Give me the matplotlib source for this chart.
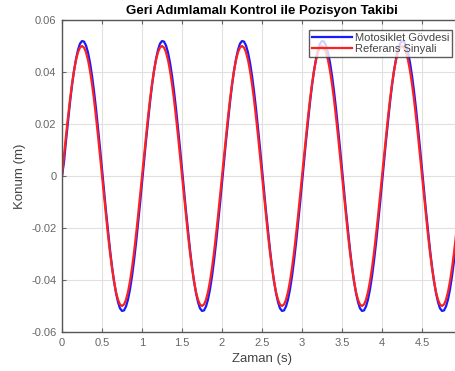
import numpy as np
import matplotlib.pyplot as plt

# time samples (s), every 0.025 s
zaman = [round(0.025 * k, 3) for k in range(201)]

# reference signal (m)
referans = [
    0.0, 0.0078, 0.0155, 0.0227, 0.0294, 0.0354, 0.0405, 0.0446, 0.0476, 0.0494, 0.0500, 0.0494, 0.0476, 0.0446, 0.0405, 0.0354, 0.0294, 0.0227, 0.0155, 0.0078,
    0.0, -0.0078, -0.0155, -0.0227, -0.0294, -0.0354, -0.0405, -0.0446, -0.0476, -0.0494, -0.0500, -0.0494, -0.0476, -0.0446, -0.0405, -0.0354, -0.0294, -0.0227, -0.0155, -0.0078,
    0.0, 0.0078, 0.0155, 0.0227, 0.0294, 0.0354, 0.0405, 0.0446, 0.0476, 0.0494, 0.0500, 0.0494, 0.0476, 0.0446, 0.0405, 0.0354, 0.0294, 0.0227, 0.0155, 0.0078,
    0.0, -0.0078, -0.0155, -0.0227, -0.0294, -0.0354, -0.0405, -0.0446, -0.0476, -0.0494, -0.0500, -0.0494, -0.0476, -0.0446, -0.0405, -0.0354, -0.0294, -0.0227, -0.0155, -0.0078,
    0.0, 0.0078, 0.0155, 0.0227, 0.0294, 0.0354, 0.0405, 0.0446, 0.0476, 0.0494, 0.0500, 0.0494, 0.0476, 0.0446, 0.0405, 0.0354, 0.0294, 0.0227, 0.0155, 0.0078,
    0.0, -0.0078, -0.0155, -0.0227, -0.0294, -0.0354, -0.0405, -0.0446, -0.0476, -0.0494, -0.0500, -0.0494, -0.0476, -0.0446, -0.0405, -0.0354, -0.0294, -0.0227, -0.0155, -0.0078,
    0.0, 0.0078, 0.0155, 0.0227, 0.0294, 0.0354, 0.0405, 0.0446, 0.0476, 0.0494, 0.0500, 0.0494, 0.0476, 0.0446, 0.0405, 0.0354, 0.0294, 0.0227, 0.0155, 0.0078,
    0.0, -0.0078, -0.0155, -0.0227, -0.0294, -0.0354, -0.0405, -0.0446, -0.0476, -0.0494, -0.0500, -0.0494, -0.0476, -0.0446, -0.0405, -0.0354, -0.0294, -0.0227, -0.0155, -0.0078,
    0.0, 0.0078, 0.0155, 0.0227, 0.0294, 0.0354, 0.0405, 0.0446, 0.0476, 0.0494, 0.0500, 0.0494, 0.0476, 0.0446, 0.0405, 0.0354, 0.0294, 0.0227, 0.0155, 0.0078,
    0.0, -0.0078, -0.0155, -0.0227, -0.0294, -0.0354, -0.0405, -0.0446, -0.0476, -0.0494, -0.0500, -0.0494, -0.0476, -0.0446, -0.0405, -0.0354, -0.0294, -0.0227, -0.0155, -0.0078,
    0.0,
]

# motorcycle body position (m), slightly larger and lagging
govde = [
    0.0, 0.0054, 0.0135, 0.0211, 0.0283, 0.0348, 0.0404, 0.0450, 0.0485, 0.0509, 0.0519, 0.0517, 0.0502, 0.0475, 0.0436, 0.0386, 0.0327, 0.0260, 0.0186, 0.0108,
    0.0027, -0.0054, -0.0135, -0.0211, -0.0283, -0.0348, -0.0404, -0.0450, -0.0485, -0.0509, -0.0519, -0.0517, -0.0502, -0.0475, -0.0436, -0.0386, -0.0327, -0.0260, -0.0186, -0.0108,
    -0.0027, 0.0054, 0.0135, 0.0211, 0.0283, 0.0348, 0.0404, 0.0450, 0.0485, 0.0509, 0.0519, 0.0517, 0.0502, 0.0475, 0.0436, 0.0386, 0.0327, 0.0260, 0.0186, 0.0108,
    0.0027, -0.0054, -0.0135, -0.0211, -0.0283, -0.0348, -0.0404, -0.0450, -0.0485, -0.0509, -0.0519, -0.0517, -0.0502, -0.0475, -0.0436, -0.0386, -0.0327, -0.0260, -0.0186, -0.0108,
    -0.0027, 0.0054, 0.0135, 0.0211, 0.0283, 0.0348, 0.0404, 0.0450, 0.0485, 0.0509, 0.0519, 0.0517, 0.0502, 0.0475, 0.0436, 0.0386, 0.0327, 0.0260, 0.0186, 0.0108,
    0.0027, -0.0054, -0.0135, -0.0211, -0.0283, -0.0348, -0.0404, -0.0450, -0.0485, -0.0509, -0.0519, -0.0517, -0.0502, -0.0475, -0.0436, -0.0386, -0.0327, -0.0260, -0.0186, -0.0108,
    -0.0027, 0.0054, 0.0135, 0.0211, 0.0283, 0.0348, 0.0404, 0.0450, 0.0485, 0.0509, 0.0519, 0.0517, 0.0502, 0.0475, 0.0436, 0.0386, 0.0327, 0.0260, 0.0186, 0.0108,
    0.0027, -0.0054, -0.0135, -0.0211, -0.0283, -0.0348, -0.0404, -0.0450, -0.0485, -0.0509, -0.0519, -0.0517, -0.0502, -0.0475, -0.0436, -0.0386, -0.0327, -0.0260, -0.0186, -0.0108,
    -0.0027, 0.0054, 0.0135, 0.0211, 0.0283, 0.0348, 0.0404, 0.0450, 0.0485, 0.0509, 0.0519, 0.0517, 0.0502, 0.0475, 0.0436, 0.0386, 0.0327, 0.0260, 0.0186, 0.0108,
    0.0027, -0.0054, -0.0135, -0.0211, -0.0283, -0.0348, -0.0404, -0.0450, -0.0485, -0.0509, -0.0519, -0.0517, -0.0502, -0.0475, -0.0436, -0.0386, -0.0327, -0.0260, -0.0186, -0.0108,
    -0.0027,
]

x_ticks = [0, 0.5, 1, 1.5, 2, 2.5, 3, 3.5, 4, 4.5, 5]
x_labels = ['0', '0.5', '1', '1.5', '2', '2.5', '3', '3.5', '4', '4.5', '5']
y_ticks = [-0.06, -0.04, -0.02, 0, 0.02, 0.04, 0.06]
y_labels = ['-0.06', '-0.04', '-0.02', '0', '0.02', '0.04', '0.06']

plt.rcParams['font.family'] = ['Liberation Sans', 'DejaVu Sans']

fig = plt.figure(figsize=(4.56, 3.71), dpi=100)
ax = fig.add_axes([62 / 456, 39 / 371, 400 / 456, 312 / 371])

ax.plot(zaman, govde, color='#1a1aff', lw=1.6, label='Motosiklet Gövdesi')
ax.plot(zaman, referans, color='#ff2020', lw=1.6, label='Referans Sinyali')

ax.set_xlim(0, 5)
ax.set_ylim(-0.06, 0.06)
ax.set_xticks(x_ticks)
ax.set_xticklabels(x_labels)
ax.set_yticks(y_ticks)
ax.set_yticklabels(y_labels)
ax.grid(True, color='#e0e0e0', lw=0.8)
ax.tick_params(direction='in', length=3, labelsize=8, colors='#666666',
               top=True, right=True, width=0.8, pad=4)
for s in ax.spines.values():
    s.set_color('#555555')
    s.set_linewidth(1.0)

ax.set_title('Geri Adımlamalı Kontrol ile Pozisyon Takibi', fontsize=9.5,
             fontweight='bold', pad=4)
ax.set_xlabel('Zaman (s)', fontsize=9.5, color='#444444', labelpad=4)
ax.set_ylabel('Konum (m)', fontsize=9.5, color='#444444', labelpad=4)

leg = ax.legend(loc='upper right', bbox_to_anchor=(0.975, 0.968), fontsize=8,
                frameon=True, fancybox=False, edgecolor='#333333',
                handlelength=3.6, handletextpad=0.3, borderpad=0.25,
                labelspacing=0.1, borderaxespad=0)
leg.get_frame().set_linewidth(1.0)
for t in leg.get_texts():
    t.set_color('#444444')

fig.savefig('out.png', dpi=100)
